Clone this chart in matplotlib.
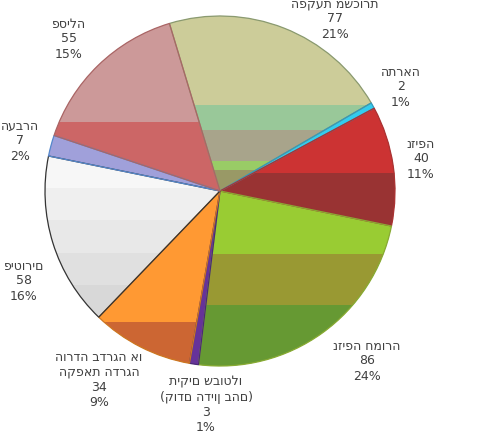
import matplotlib
matplotlib.use("Agg")
import matplotlib.pyplot as plt
from matplotlib.patches import Rectangle, Wedge

# data (clockwise from the top)
categories = ["הפקעת משכורת", "התראה", "נזיפה", "נזיפה חמורה",
              "תיקים שבוטלו\n(קודם הדיון בהם)", "הורדה בדרגה או\nהקפאת הדרגה",
              "פיטורים", "העברה", "פסילה"]
values = [77, 2, 40, 86, 3, 34, 58, 7, 55]
percents = ["21%", "1%", "11%", "24%", "1%", "9%", "16%", "2%", "15%"]

# banded fills: (fraction from top of slice, colour)
bands = [
    [(0.0, "#CCCC99"), (0.51, "#99C899"), (0.65, "#A8A48B"), (0.83, "#99CC66"), (0.88, "#999966")],
    [(0.0, "#33CCEE")],
    [(0.0, "#CC3333"), (0.55, "#993333")],
    [(0.0, "#99CC33"), (0.36, "#999933"), (0.65, "#669933")],
    [(0.0, "#663399")],
    [(0.0, "#FF9933"), (0.76, "#CC6633")],
    [(0.0, "#F7F7F7"), (0.2, "#EFEFEF"), (0.4, "#E8E8E8"), (0.6, "#E0E0E0"), (0.8, "#D8D8D8")],
    [(0.0, "#A0A0DA")],
    [(0.0, "#CC9999"), (0.59, "#CC6666")],
]
edge_colors = ["#8A9A70", "#3399BB", "#AA3333", "#88AA33", "#4A2A77",
               "#CC7722", "#333333", "#5588CC", "#AA6666"]

# label block centres in pixels (x, y from top)
label_pos = [(335, 19), (401, 87), (421, 159), (367, 361), (206, 405),
             (99, 380), (24, 281), (20, 141), (69, 39)]

W, H = 480, 433
step = 15  # px between label lines

fig = plt.figure(figsize=(W / 100, H / 100), dpi=100)
ax = fig.add_axes([0, 0, 1, 1])

wedges, _ = ax.pie(values, startangle=106.8, counterclock=False,
                   center=(220, H - 191), radius=175,
                   colors=[b[0][1] for b in bands],
                   wedgeprops=dict(linewidth=0))

for w, b, ec in zip(wedges, bands, edge_colors):
    ext = w.get_path().get_extents()
    top, h = ext.y1, ext.height
    for i, (f, c) in enumerate(b):
        f2 = b[i + 1][0] if i + 1 < len(b) else 1.0
        r = Rectangle((ext.x0 - 1, top - f2 * h - 1), ext.width + 2, (f2 - f) * h + 1,
                      facecolor=c, edgecolor="none", zorder=2)
        ax.add_patch(r)
        r.set_clip_path(w)
    outline = Wedge(w.center, w.r, w.theta1, w.theta2, facecolor="none",
                    edgecolor=ec, linewidth=0.9, zorder=3)
    ax.add_patch(outline)

for cat, v, p, (px, py) in zip(categories, values, percents, label_pos):
    lines = cat.split("\n") + [str(v), p]
    n = len(lines)
    for i, line in enumerate(lines):
        y = py + (i - (n - 1) / 2) * step
        ax.text(px, H - y, line, ha="center", va="center", fontsize=9,
                color="#404040", family="DejaVu Sans")

ax.set_xlim(0, W)
ax.set_ylim(0, H)
ax.set_aspect("equal")
ax.axis("off")
fig.savefig("out.png", dpi=100)
